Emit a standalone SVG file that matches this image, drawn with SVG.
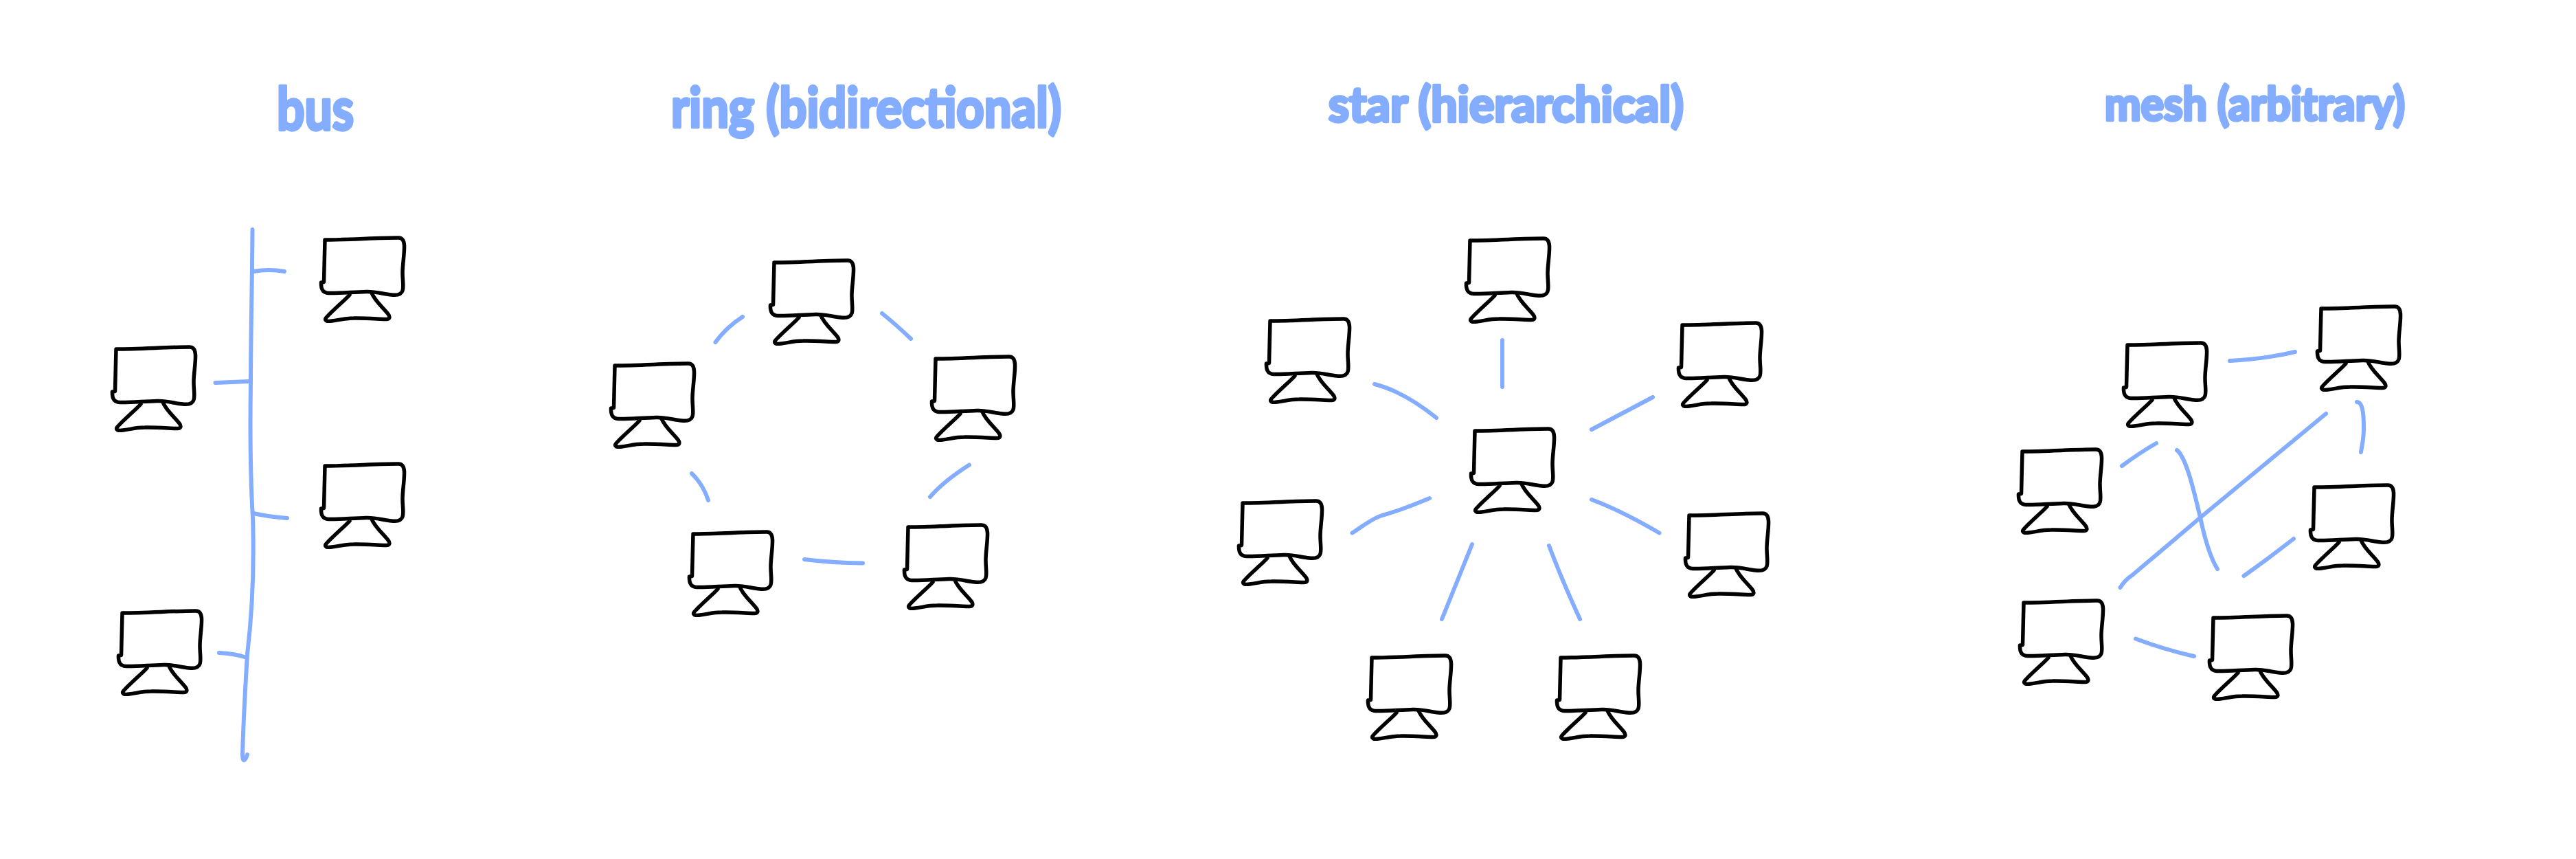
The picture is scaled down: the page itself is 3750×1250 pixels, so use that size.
<svg xmlns="http://www.w3.org/2000/svg" xmlns:xlink="http://www.w3.org/1999/xlink" width="3750" height="1250" viewBox="0 0 3750 1250">
<style>
.pc{fill:none;stroke:#000;stroke-width:5.5;stroke-linecap:round;stroke-linejoin:round}
.link{fill:none;stroke:#84adff;stroke-width:6;stroke-linecap:round;stroke-linejoin:round}
.title{font-family:"Lato","Noto Sans",sans-serif;font-weight:700;fill:#84adff;stroke:#84adff;stroke-width:4.5;stroke-linejoin:round}
</style>
<defs>
<g id="pc">
<path class="pc" d="M-1.5,61.5 L0,0 C35,0 75,-3 107,-3 C113,-3 115,1 115.5,8 C116,20 113,35 113,48 C113,60 115,68 113,74 C111,80 105,81 97,80 C85,79 75,75 60,75.5 C40,76 20,78 5,77.5 C-3,77 -6,72 -5.5,62 Z"/>
<path class="pc" d="M36,80 C30,87 14,100 2,113 C-2,118 3,119 10,118 C20,117 28,114 42,114 C55,113.5 75,115 88,115.5 C95,116 95,112 92,108 C84,98 72,88 68,77"/>
</g>
</defs>
<rect width="3750" height="1250" fill="#fff"/>
<g id="titles">
<text class="title" x="403" y="189" font-size="86" textLength="112" lengthAdjust="spacingAndGlyphs">bus</text>
<text class="title" x="977" y="185" font-size="80" textLength="568" lengthAdjust="spacingAndGlyphs">ring (bidirectional)</text>
<text class="title" x="1934" y="177" font-size="70" textLength="517" lengthAdjust="spacingAndGlyphs">star (hierarchical)</text>
<text class="title" x="3064" y="175" font-size="66" textLength="437" lengthAdjust="spacingAndGlyphs">mesh (arbitrary)</text>
</g>
<g id="connectors">
<path class="link" d="M367.5,334 C367,420 365,490 365,555 C364,620 364,686 368,753 C370,819 368,885 360,952 C356,1018 354,1060 353,1098 C353,1110 357,1108 360,1098"/>
<path class="link" d="M369,395 Q391,391 414,395"/>
<path class="link" d="M313.5,557 L362,555"/>
<path class="link" d="M369,747 Q391,752 418,754"/>
<path class="link" d="M319,950 Q340,951 356,956"/>
<path class="link" d="M1081,461 Q1057,476.5 1041.5,498"/>
<path class="link" d="M1284,456 Q1304,472 1326,493"/>
<path class="link" d="M1411,676.5 Q1374,700 1354,723"/>
<path class="link" d="M1171,814 Q1210,819 1256,819.5"/>
<path class="link" d="M1007,689 Q1023,704 1031,728"/>
<path class="link" d="M2187,495 L2187,563"/>
<path class="link" d="M2001,559 Q2044,570 2091,608"/>
<path class="link" d="M2406,578 L2317,625"/>
<path class="link" d="M2317,727 Q2360,743 2415.5,775.5"/>
<path class="link" d="M2081,725 C2055,736 2030,745 2012,750 C1996,755 1982,767 1968.5,775.5"/>
<path class="link" d="M2143,792 L2099,901"/>
<path class="link" d="M2255,794 Q2272,840 2300,901"/>
<path class="link" d="M3246,525 Q3300,522 3341,512"/>
<path class="link" d="M3431,585 C3440,585 3441,605 3441,623 C3441,640 3438,650 3437,658"/>
<path class="link" d="M3386,602 C3325,653 3263,703 3202,754 C3160,790 3130,815 3104,837 C3096,842 3091,848 3086.5,855"/>
<path class="link" d="M3089,678 Q3116,658 3139,645"/>
<path class="link" d="M3169,655 C3182,665 3193,710 3204,757.5 C3210,785 3218,812 3228,828"/>
<path class="link" d="M3266.5,838 Q3303,812 3339,784"/>
<path class="link" d="M3109,929.5 Q3150,945 3194,955"/>
</g>
<g id="bus-1"><use href="#pc" x="473" y="349"/></g>
<g id="bus-2"><use href="#pc" x="169" y="508"/></g>
<g id="bus-3"><use href="#pc" x="473" y="678"/></g>
<g id="bus-4"><use href="#pc" x="178" y="892"/></g>
<g id="ring-1"><use href="#pc" x="1127" y="382"/></g>
<g id="ring-2"><use href="#pc" x="895" y="532"/></g>
<g id="ring-3"><use href="#pc" x="1362" y="522"/></g>
<g id="ring-4"><use href="#pc" x="1009" y="777"/></g>
<g id="ring-5"><use href="#pc" x="1322" y="767"/></g>
<g id="star-1"><use href="#pc" x="2140" y="350"/></g>
<g id="star-2"><use href="#pc" x="1849" y="467"/></g>
<g id="star-3"><use href="#pc" x="2449" y="473"/></g>
<g id="star-hub"><use href="#pc" x="2147" y="627"/></g>
<g id="star-4"><use href="#pc" x="1809" y="732"/></g>
<g id="star-5"><use href="#pc" x="2459" y="750"/></g>
<g id="star-6"><use href="#pc" x="1997" y="957"/></g>
<g id="star-7"><use href="#pc" x="2272" y="957"/></g>
<g id="mesh-1"><use href="#pc" x="3097" y="502"/></g>
<g id="mesh-2"><use href="#pc" x="3379" y="449"/></g>
<g id="mesh-3"><use href="#pc" x="2944" y="657"/></g>
<g id="mesh-4"><use href="#pc" x="3369" y="709"/></g>
<g id="mesh-5"><use href="#pc" x="2946" y="877"/></g>
<g id="mesh-6"><use href="#pc" x="3222" y="899"/></g>
</svg>
